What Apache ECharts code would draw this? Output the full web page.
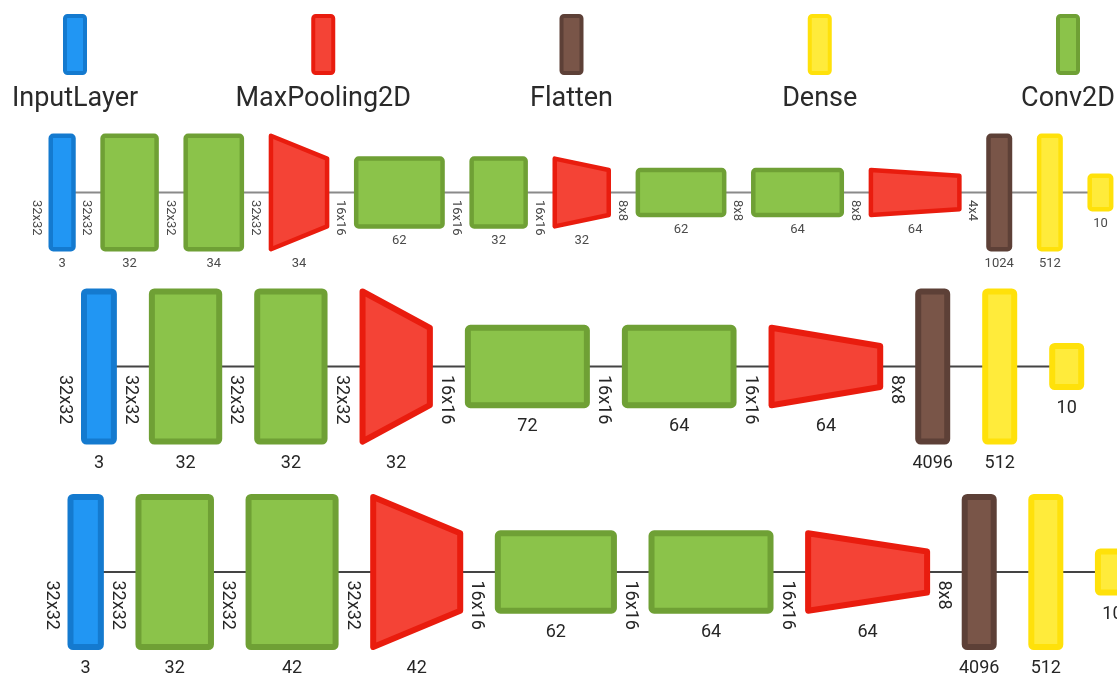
<!DOCTYPE html>
<html>
<head>
<meta charset="utf-8">
<script src="https://cdn.jsdelivr.net/npm/echarts@6/dist/echarts.min.js"></script>
<style>
html,body{margin:0;padding:0;background:#ffffff;}
#chart{width:1117px;height:675px;}
</style>
</head>
<body>
<div id="chart"></div>
<script>
// ---------------- data ----------------
const legendNames = ['InputLayer', 'MaxPooling2D', 'Flatten', 'Dense', 'Conv2D'];

const row1Types = ['InputLayer', 'Conv2D', 'Conv2D', 'MaxPooling2D', 'Conv2D', 'Conv2D', 'MaxPooling2D', 'Conv2D', 'Conv2D', 'MaxPooling2D', 'Flatten', 'Dense', 'Dense'];
const row1Channels = [3, 32, 34, 34, 62, 32, 32, 62, 64, 64, 1024, 512, 10];
const row1Spatial = [32, 32, 32, 16, 16, 16, 8, 8, 8, 4, 0, 0, 0];

const row2Types = ['InputLayer', 'Conv2D', 'Conv2D', 'MaxPooling2D', 'Conv2D', 'Conv2D', 'MaxPooling2D', 'Flatten', 'Dense', 'Dense'];
const row2Channels = [3, 32, 32, 32, 72, 64, 64, 4096, 512, 10];
const row2Spatial = [32, 32, 32, 16, 16, 16, 8, 0, 0, 0];

const row3Types = ['InputLayer', 'Conv2D', 'Conv2D', 'MaxPooling2D', 'Conv2D', 'Conv2D', 'MaxPooling2D', 'Flatten', 'Dense', 'Dense'];
const row3Channels = [3, 32, 42, 42, 62, 64, 64, 4096, 512, 10];
const row3Spatial = [32, 32, 32, 16, 16, 16, 8, 0, 0, 0];

// ---------------- styles & layout ----------------
const typeStyle = {
  InputLayer:   { fill: '#2196F3', stroke: '#147ACF' },
  MaxPooling2D: { fill: '#F44336', stroke: '#E91C0E' },
  Flatten:      { fill: '#795548', stroke: '#5D4037' },
  Dense:        { fill: '#FFEB3B', stroke: '#FFE10A' },
  Conv2D:       { fill: '#8BC34A', stroke: '#6FA035' }
};
const FONT = 'Roboto, "Noto Sans", sans-serif';

const legendLayout = { cx0: 75, step: 248.25, top: 14, w: 24, h: 61, lw: 4, textY: 99.5, font: 27, color: '#2a2a2a' };

const rowLayouts = [
  { x0: 48.5, cy: 192.5, minW: 24, maxW: 93, flatW: 26, gap: 24.6, minH: 38, maxH: 118, lw: 4.5, font: 13, color: '#4a4a4a', line: '#8a8a8a', lineW: 2, chOff: 12.5, dimOff: 11, dimStart: 7.5, leftOff: 12.5 },
  { x0: 81, cy: 366.5, minW: 32, maxW: 125, flatW: 35, gap: 32, minH: 47, maxH: 156, lw: 6, font: 18, color: '#262626', line: '#444444', lineW: 2, chOff: 18.5, dimOff: 13.5, dimStart: 8.5, leftOff: 16.5 },
  { x0: 67.5, cy: 572, minW: 32, maxW: 125, flatW: 35, gap: 31.6, minH: 47, maxH: 156, lw: 6, font: 18, color: '#262626', line: '#444444', lineW: 2, chOff: 18.5, dimOff: 13.5, dimStart: 8.5, leftOff: 16.5 }
];

function layoutRow(types, channels, spatial, L) {
  const sp = spatial.filter(s => s > 0);
  const sMin = Math.min.apply(null, sp), sMax = Math.max.apply(null, sp);
  const chMax = Math.max.apply(null, channels.filter((c, i) => spatial[i] > 0));
  const hOf = s => L.minH + (s - sMin) / (sMax - sMin) * (L.maxH - L.minH);
  let x = L.x0;
  let prevS = spatial[0];
  const items = [];
  types.forEach((t, i) => {
    const is2D = spatial[i] > 0;
    const w = is2D ? L.minW + channels[i] / chMax * (L.maxW - L.minW) : L.flatW;
    let hL, hR;
    if (is2D) {
      hL = hOf(t === 'MaxPooling2D' ? prevS : spatial[i]);
      hR = hOf(spatial[i]);
    } else {
      hL = hR = channels[i] >= 100 ? L.maxH : L.minH;
    }
    items.push({
      type: t, x: x, cy: L.cy, w: w, hL: hL, hR: hR, ch: channels[i],
      dim: is2D ? spatial[i] + 'x' + spatial[i] : null,
      leftDim: i === 0 ? spatial[0] + 'x' + spatial[0] : null
    });
    x += w + L.gap;
    if (is2D) prevS = spatial[i];
  });
  return items;
}

const rowsData = [
  [row1Types, row1Channels, row1Spatial],
  [row2Types, row2Channels, row2Spatial],
  [row3Types, row3Channels, row3Spatial]
];

function makeRenderer(items, L) {
  return function (params, api) {
    const it = items[params.dataIndex];
    const p = api.coord([api.value(0), api.value(1)]);
    const sL = api.size([api.value(2), api.value(3)]);
    const sR = api.size([api.value(2), api.value(4)]);
    const x = p[0], cy = p[1], w = sL[0], hL = sL[1], hR = sR[1];
    const st = typeStyle[it.type];
    const lw = L.lw, h2 = lw / 2;
    const children = [];
    if (it.type === 'MaxPooling2D') {
      children.push({
        type: 'polygon',
        shape: { points: [[x + h2, cy - hL / 2 + h2], [x + w - h2, cy - hR / 2 + h2], [x + w - h2, cy + hR / 2 - h2], [x + h2, cy + hL / 2 - h2]] },
        style: { fill: st.fill, stroke: st.stroke, lineWidth: lw, lineJoin: 'round' }
      });
    } else {
      children.push({
        type: 'rect',
        shape: { x: x + h2, y: cy - hL / 2 + h2, width: w - lw, height: hL - lw, r: 2.5 },
        style: { fill: st.fill, stroke: st.stroke, lineWidth: lw }
      });
    }
    const txt = { fill: L.color, fontSize: L.font, fontFamily: FONT };
    children.push({
      type: 'text', x: x + w / 2, y: cy + hL / 2 + L.chOff,
      style: Object.assign({ text: String(it.ch), align: 'center', verticalAlign: 'middle' }, txt)
    });
    if (it.dim) {
      children.push({
        type: 'text', x: x + w + L.dimOff, y: cy + L.dimStart, rotation: -Math.PI / 2,
        style: Object.assign({ text: it.dim, align: 'left', verticalAlign: 'middle' }, txt)
      });
    }
    if (it.leftDim) {
      children.push({
        type: 'text', x: x - L.leftOff, y: cy + L.dimStart, rotation: -Math.PI / 2,
        style: Object.assign({ text: it.leftDim, align: 'left', verticalAlign: 'middle' }, txt)
      });
    }
    return { type: 'group', children: children };
  };
}

const series = [];
rowsData.forEach((r, ri) => {
  const L = rowLayouts[ri];
  const items = layoutRow(r[0], r[1], r[2], L);
  const first = items[0], last = items[items.length - 1];
  series.push({
    type: 'line', z: 1, silent: true, symbol: 'none', animation: false,
    lineStyle: { color: L.line, width: L.lineW },
    data: [[first.x + first.w / 2, L.cy], [last.x + last.w / 2, L.cy]]
  });
  series.push({
    type: 'custom', z: 2, silent: true, animation: false, clip: false,
    renderItem: makeRenderer(items, L),
    data: items.map(it => [it.x, it.cy, it.w, it.hL, it.hR])
  });
});

// legend drawn as custom series
series.push({
  type: 'custom', z: 3, silent: true, animation: false, clip: false,
  data: legendNames.map((n, i) => [legendLayout.cx0 + i * legendLayout.step, legendLayout.top]),
  renderItem: function (params, api) {
    const G = legendLayout;
    const name = legendNames[params.dataIndex];
    const st = typeStyle[name];
    const p = api.coord([api.value(0), api.value(1)]);
    const s = api.size([G.w, G.h]);
    const ty = api.coord([0, G.textY])[1];
    const h2 = G.lw / 2;
    return {
      type: 'group',
      children: [
        { type: 'rect', shape: { x: p[0] - s[0] / 2 + h2, y: p[1] + h2, width: s[0] - G.lw, height: s[1] - G.lw, r: 2.5 },
          style: { fill: st.fill, stroke: st.stroke, lineWidth: G.lw } },
        { type: 'text', x: p[0], y: ty,
          style: { text: name, align: 'center', verticalAlign: 'middle', fill: G.color, fontSize: G.font, fontFamily: FONT } }
      ]
    };
  }
});

const chart = echarts.init(document.getElementById('chart'), null, { renderer: 'canvas' });
chart.setOption({
  animation: false,
  backgroundColor: '#ffffff',
  grid: { left: 0, right: 0, top: 0, bottom: 0, containLabel: false, outerBoundsMode: 'none' },
  xAxis: { type: 'value', min: 0, max: 1117, show: false },
  yAxis: { type: 'value', min: 0, max: 675, inverse: true, show: false },
  series: series
});
</script>
</body>
</html>
